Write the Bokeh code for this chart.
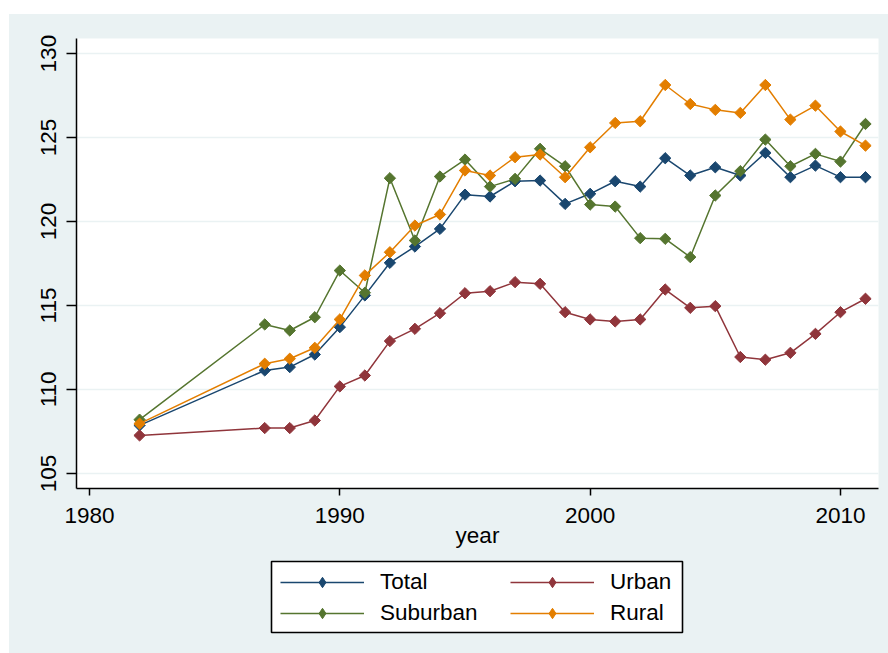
import math
from bokeh.plotting import figure
from bokeh.models import (FixedTicker, Legend, LegendItem, Range1d, Spacer,
                          BoxAnnotation)
from bokeh.layouts import column, row
from bokeh.embed import file_html
from bokeh.resources import INLINE

years = [1982, 1987, 1988, 1989, 1990, 1991, 1992, 1993, 1994, 1995, 1996,
         1997, 1998, 1999, 2000, 2001, 2002, 2003, 2004, 2005, 2006, 2007,
         2008, 2009, 2010, 2011]

total = [107.86, 111.13, 111.33, 112.08, 113.71, 115.6, 117.54, 118.51, 119.56,
         121.6, 121.49, 122.4, 122.44, 121.05, 121.65, 122.4, 122.08, 123.77,
         122.74, 123.23, 122.74, 124.09, 122.64, 123.33, 122.64, 122.64]

urban = [107.26, 107.7, 107.7, 108.15, 110.18, 110.83, 112.88, 113.61, 114.54,
         115.73, 115.85, 116.39, 116.29, 114.6, 114.17, 114.05, 114.17, 115.95,
         114.86, 114.96, 111.93, 111.77, 112.18, 113.31, 114.6, 115.4]

suburban = [108.2, 113.87, 113.51, 114.3, 117.08, 115.76, 122.58, 118.87, 122.68,
            123.69, 122.08, 122.54, 124.33, 123.29, 121.01, 120.89, 119.01, 118.97,
            117.88, 121.55, 123.0, 124.88, 123.29, 124.03, 123.57, 125.81]

rural = [107.96, 111.53, 111.83, 112.48, 114.17, 116.79, 118.17, 119.76, 120.42,
         123.04, 122.74, 123.83, 123.99, 122.64, 124.42, 125.87, 125.97, 128.13,
         127.0, 126.65, 126.47, 128.13, 126.07, 126.9, 125.36, 124.52]

series_names = ["Total", "Urban", "Suburban", "Rural"]
series_values = [total, urban, suburban, rural]
series_colors = ["#1A476F", "#90353B", "#55752F", "#E37E00"]

x_ticks = [1980, 1990, 2000, 2010]
y_ticks = [105, 110, 115, 120, 125, 130]

BG = "#EAF2F3"
FONT = "Liberation Sans"
FS = "22.5px"

# ---------------- main chart ----------------
p = figure(width=879, height=544, output_backend="svg", toolbar_location=None,
           x_range=Range1d(1979.48, 2011.52), y_range=Range1d(104.1, 130.9),
           background_fill_color="white", border_fill_color=BG,
           min_border_left=67, min_border_right=10, min_border_top=24,
           min_border_bottom=70, outline_line_color=None)

for name, vals, col in zip(series_names, series_values, series_colors):
    p.line(years, vals, line_color=col, line_width=1.5)
    p.scatter(years, vals, marker="square", angle=math.pi / 4, size=8,
              fill_color=col, line_color=col)

p.xaxis.ticker = FixedTicker(ticks=x_ticks)
p.yaxis.ticker = FixedTicker(ticks=y_ticks)
p.xgrid.visible = False
p.ygrid.ticker = FixedTicker(ticks=y_ticks)
p.ygrid.grid_line_color = BG
p.ygrid.grid_line_width = 1.5

for ax in (p.xaxis[0], p.yaxis[0]):
    ax.axis_line_color = "black"
    ax.axis_line_width = 1.5
    ax.major_tick_line_color = "black"
    ax.major_tick_line_width = 1.5
    ax.minor_tick_line_color = None
    ax.major_tick_in = 0
    ax.major_label_text_font = FONT
    ax.major_label_text_font_size = FS
    ax.major_label_text_color = "black"

p.xaxis.major_tick_out = 7
p.xaxis.major_label_standoff = 12
p.xaxis.axis_label = "year"
p.xaxis.axis_label_text_font = FONT
p.xaxis.axis_label_text_font_size = FS
p.xaxis.axis_label_text_font_style = "normal"
p.xaxis.axis_label_text_color = "black"
p.xaxis.axis_label_standoff = -3

p.yaxis.major_tick_out = 10
p.yaxis.major_label_standoff = 10
p.yaxis.major_label_orientation = "vertical"

# ---------------- legend strip ----------------
# its frame is aligned with the main frame (page x 76..878), so the x range is
# expressed in page pixels
H2 = 95
q = figure(width=879, height=H2, output_backend="svg", toolbar_location=None,
           x_range=Range1d(76, 878), y_range=Range1d(0, H2),
           x_axis_location=None, y_axis_location=None,
           background_fill_color=BG, border_fill_color=BG,
           min_border=0, min_border_left=67, min_border_right=10,
           min_border_top=0, min_border_bottom=0, outline_line_color=None)
q.grid.visible = False

box = BoxAnnotation(left=271, right=682, top=92, bottom=21,
                    fill_color="white", fill_alpha=1.0,
                    line_color="black", line_alpha=1.0, line_width=1.6)
q.add_layout(box)

items = {}
for name, vals, col in zip(series_names, series_values, series_colors):
    # key renderers: same data, lying outside this strip's ranges (not visible)
    k1 = q.line(years, vals, line_color=col, line_width=1.5)
    k2 = q.scatter(years, vals, marker="diamond", size=13,
                   fill_color=col, line_color=col)
    items[name] = LegendItem(label=name, renderers=[k1, k2])

leg_common = dict(orientation="vertical", glyph_width=84, glyph_height=26,
                  label_standoff=16, label_text_font=FONT,
                  label_text_font_size=FS, label_text_color="black",
                  label_height=26, spacing=5, padding=0, margin=0,
                  border_line_color=None, background_fill_alpha=0.0)
leg_a = Legend(items=[items["Total"], items["Suburban"]], location=(204, 27),
               **leg_common)
leg_b = Legend(items=[items["Urban"], items["Rural"]], location=(434, 27),
               **leg_common)
q.add_layout(leg_a)
q.add_layout(leg_b)

top_gap = Spacer(width=879, height=14, styles={"background-color": "white"})
inner = column(top_gap, p, q, styles={"background-color": BG})
layout = row(Spacer(width=9, height=653), inner)

open("out.html", "w").write(file_html(layout, INLINE))
